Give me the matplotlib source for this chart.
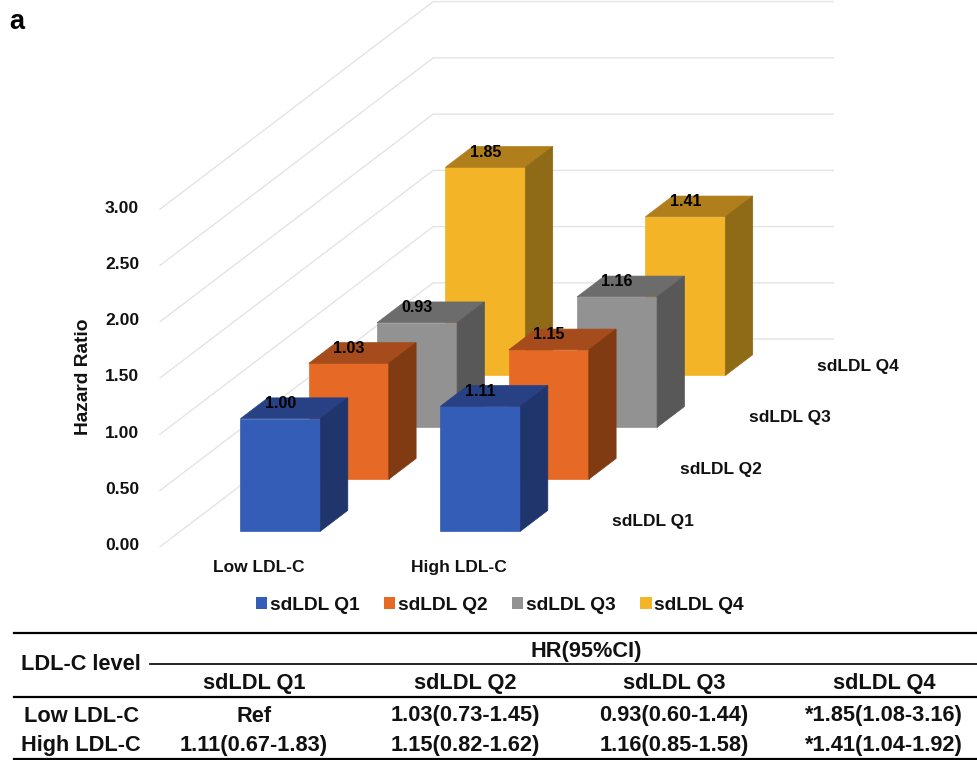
import matplotlib
matplotlib.use("Agg")
import matplotlib.pyplot as plt
from matplotlib.patches import Polygon, Patch

plt.rcParams["font.family"] = ["Liberation Sans", "DejaVu Sans"]
plt.rcParams["font.weight"] = "bold"

categories = ["Low LDL-C", "High LDL-C"]
series_names = ["sdLDL Q1", "sdLDL Q2", "sdLDL Q3", "sdLDL Q4"]
low_values = [1.00, 1.03, 0.93, 1.85]
high_values = [1.11, 1.15, 1.16, 1.41]
y_ticks = [0.0, 0.5, 1.0, 1.5, 2.0, 2.5, 3.0]

table_rows = ["Low LDL-C", "High LDL-C"]
low_hr = ["Ref", "1.03(0.73-1.45)", "0.93(0.60-1.44)", "*1.85(1.08-3.16)"]
high_hr = ["1.11(0.67-1.83)", "1.15(0.82-1.62)", "1.16(0.85-1.58)", "*1.41(1.04-1.92)"]

# front, top, side
colors = [
    ("#345DB8", "#284084", "#20356C"),
    ("#E66A26", "#A64B1B", "#803B13"),
    ("#929292", "#6C6C6C", "#585858"),
    ("#F4B428", "#B07E1B", "#8F6A17"),
]
GRID = "#E4E4E4"
TEXT = "#111111"


def project(cat, depth, value):
    # oblique projection of the excel style 3d chart, result in image pixels
    return 160 + cat * 200 + depth * 68.3, 546.7 - depth * 51.9 - value * 112.5


def draw_bar(ax, cat_idx, ser_idx, value):
    front, top, side = colors[ser_idx]
    x0, x1 = cat_idx + 0.3, cat_idx + 0.7
    d0, d1 = ser_idx + 0.3, ser_idx + 0.7
    faces = [
        ([(x0, d0, 0), (x1, d0, 0), (x1, d0, value), (x0, d0, value)], front),
        ([(x0, d0, value), (x1, d0, value), (x1, d1, value), (x0, d1, value)], top),
        ([(x1, d0, 0), (x1, d1, 0), (x1, d1, value), (x1, d0, value)], side),
    ]
    for pts, color in faces:
        ax.add_patch(Polygon([project(*p) for p in pts], closed=True,
                             facecolor=color, edgecolor=color, linewidth=0.5, zorder=3 + (4 - ser_idx)))


fig = plt.figure(figsize=(9.77, 7.6), dpi=100)
ax = fig.add_axes([0, 0, 1, 1])
ax.set_xlim(0, 977)
ax.set_ylim(760, 0)
ax.axis("off")

ax.text(9, 22, "a", fontsize=19.5, ha="left", va="center", color="black")

# walls
for v in y_ticks:
    pts = [project(0, 0, v), project(0, 4, v), project(2, 4, v)]
    ax.plot([p[0] for p in pts], [p[1] for p in pts], color=GRID, linewidth=1.0, zorder=1)
    ax.text(139, pts[0][1] - 1, f"{v:.2f}", fontsize=12.6, ha="right", va="center", color=TEXT)

ax.text(83, 377, "Hazard Ratio", fontsize=13.8, rotation=90, ha="center", va="center", color=TEXT)

for i, vals in enumerate([low_values, high_values]):
    for j, val in enumerate(vals):
        draw_bar(ax, i, j, val)
        px, py = project(i + 0.5, j + 0.3, val)
        ax.text(px, py - 15, f"{val:.2f}", fontsize=11.5, ha="center", va="center", color="black", zorder=10)
    px, py = project(i + 0.5, 0, 0)
    ax.text(px - 1, py + 21, categories[i], fontsize=12.5, ha="center", va="center", color=TEXT)

for j, name in enumerate(series_names):
    px, py = project(2, j + 0.5, 0)
    ax.text(px + 18, py + 1, name, fontsize=12.5, ha="left", va="center", color=TEXT)

handles = [Patch(facecolor=c[0], edgecolor="none", label=n) for c, n in zip(colors, series_names)]
ax.legend(handles=handles, ncol=4, loc="center", bbox_to_anchor=(500 / 977, 1 - 605 / 760),
          frameon=False, fontsize=13.8, handlelength=0.6, handleheight=0.6,
          handletextpad=0.15, columnspacing=1.25, labelcolor=TEXT)

# table
LEFT, RIGHT = 14, 977
ax.plot([LEFT, RIGHT], [633, 633], color="black", linewidth=1.6)
ax.plot([150, RIGHT], [664, 664], color="black", linewidth=1.2)
ax.plot([LEFT, RIGHT], [697, 697], color="black", linewidth=1.6)
ax.plot([LEFT, RIGHT], [759, 759], color="black", linewidth=1.6)

col_x = [254, 465, 674, 884]
ax.text(586, 651, "HR(95%CI)", fontsize=15.7, ha="center", va="center", color=TEXT)
ax.text(81, 665, "LDL-C level", fontsize=15.7, ha="center", va="center", color=TEXT)
for x, name in zip(col_x, series_names):
    ax.text(x, 684, name, fontsize=15.7, ha="center", va="center", color=TEXT)
for y, label, row in zip([716, 745], table_rows, [low_hr, high_hr]):
    ax.text(81, y, label, fontsize=15.7, ha="center", va="center", color=TEXT)
    for x, cell in zip(col_x, row):
        ax.text(x, y, cell, fontsize=15.7, ha="center", va="center", color=TEXT)

fig.savefig("out.png", dpi=100)
